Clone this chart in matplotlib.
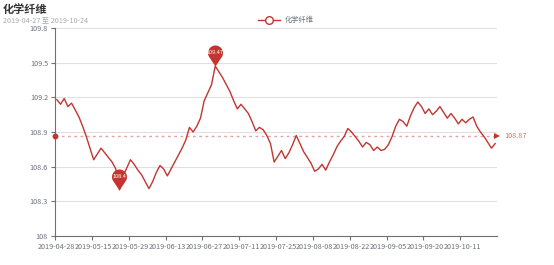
import numpy as np
import pandas as pd
import matplotlib
matplotlib.use("Agg")
import matplotlib.pyplot as plt
from matplotlib.path import Path
from matplotlib.lines import Line2D

plt.rcParams['font.family'] = ['Noto Sans CJK SC', 'DejaVu Sans']

title = "化学纤维"
subtitle = "2019-04-27 至 2019-10-24"
series_name = "化学纤维"

holidays = ["2019-05-01", "2019-05-02", "2019-05-03", "2019-06-07", "2019-09-13",
            "2019-10-01", "2019-10-02", "2019-10-03", "2019-10-04", "2019-10-07"]
dates = ["2019-04-28"] + [d.strftime("%Y-%m-%d") for d in
                          pd.bdate_range("2019-04-29", "2019-10-24")
                          if d.strftime("%Y-%m-%d") not in holidays]

values = [
    109.18, 109.14, 109.19, 109.12, 109.15, 109.09, 109.03, 108.95, 108.86, 108.76,
    108.66, 108.71, 108.76, 108.72, 108.68, 108.64, 108.58, 108.40, 108.52, 108.59,
    108.66, 108.62, 108.57, 108.53, 108.47, 108.41, 108.47, 108.55, 108.61, 108.58,
    108.52, 108.58, 108.64, 108.70, 108.76, 108.83, 108.94, 108.90, 108.95, 109.02,
    109.17, 109.24, 109.31, 109.47, 109.42, 109.37, 109.31, 109.25, 109.17, 109.10,
    109.14, 109.10, 109.06, 108.99, 108.91, 108.94, 108.92, 108.87, 108.80, 108.64,
    108.69, 108.74, 108.67, 108.72, 108.79, 108.87, 108.80, 108.73, 108.68, 108.63,
    108.56, 108.58, 108.62, 108.57, 108.64, 108.70, 108.77, 108.82, 108.86, 108.93,
    108.90, 108.86, 108.82, 108.77, 108.81, 108.79, 108.74, 108.77, 108.74, 108.75,
    108.79, 108.86, 108.95, 109.01, 108.99, 108.95, 109.04, 109.11, 109.16, 109.12,
    109.06, 109.10, 109.05, 109.08, 109.12, 109.07, 109.02, 109.06, 109.02, 108.97,
    109.01, 108.98, 109.01, 109.03, 108.95, 108.90, 108.86, 108.81, 108.76, 108.80,
]

y_ticks = [108, 108.3, 108.6, 108.9, 109.2, 109.5, 109.8]
y_tick_labels = ["108", "108.3", "108.6", "108.9", "109.2", "109.5", "109.8"]

RED = "#c23531"
GREY = "#6e7079"

W, H = 554, 265
fig = plt.figure(figsize=(W / 100, H / 100), dpi=100)
ax = fig.add_axes([55 / W, 1 - 236 / H, (497 - 55) / W, (236 - 28) / H])

n = len(values)
x = np.arange(n)
ax.plot(x, values, color=RED, lw=1.0, zorder=3, solid_joinstyle='round')

ax.set_xlim(-0.5, n - 0.5)
ax.set_ylim(y_ticks[0], y_ticks[-1])
ax.set_yticks(y_ticks)
ax.set_yticklabels(y_tick_labels)
ax.grid(axis='y', color='#e0e0e0', lw=0.8)
ax.set_axisbelow(True)

tick_idx = list(range(0, n, 10))
ax.set_xticks([i - 0.5 for i in tick_idx])
ax.set_xticklabels([])
for i in tick_idx:
    ax.text(i, -0.035, dates[i], transform=ax.get_xaxis_transform(), ha='center', va='top',
            fontsize=5.2, color=GREY)

for s in ['top', 'right']:
    ax.spines[s].set_visible(False)
ax.spines['left'].set_color(GREY)
ax.spines['bottom'].set_color(GREY)
ax.spines['left'].set_linewidth(0.8)
ax.spines['bottom'].set_linewidth(0.8)
ax.tick_params(axis='y', length=3, width=0.8, color=GREY, labelsize=5.2, labelcolor=GREY, pad=2)
ax.tick_params(axis='x', length=3, width=0.8, color=GREY)

# average mark line
avg = float(np.mean(values))
ax.plot([-0.5, n - 0.5], [avg, avg], color=RED, alpha=0.45, lw=1.0, ls=(0, (2, 2.5)), zorder=2,
        clip_on=False)
ax.plot([-0.5], [avg], marker='o', color=RED, markersize=3.2, zorder=4, clip_on=False)
ax.plot([n - 0.5], [avg], marker='>', color=RED, markersize=4.5, zorder=4, clip_on=False,
        markeredgewidth=0)
ax.annotate(f"{avg:.2f}", xy=(n - 0.5, avg), xytext=(5, 0), textcoords='offset points',
            ha='left', va='center', fontsize=5.2, color="#d9706c", annotation_clip=False)

# pin marker
r, d = 7.5, 13.5
a = np.arcsin(r / d)
theta = np.linspace(-a, np.pi + a, 60)
arc = np.column_stack([r * np.cos(theta), d + r * np.sin(theta)])
verts = np.vstack([[0, 0], arc, [0, 0]])
codes = [Path.MOVETO] + [Path.LINETO] * (len(verts) - 2) + [Path.CLOSEPOLY]
pin = Path(verts, codes)
pin_size_pt = 2 * (d + r) * 0.72


def mark(i, label):
    ax.plot([i], [values[i]], marker=pin, markersize=pin_size_pt, color=RED,
            markeredgewidth=0, zorder=5, clip_on=False)
    ax.annotate(label, xy=(i, values[i]), xytext=(0, d * 0.72), textcoords='offset points',
                ha='center', va='center', fontsize=4.0, color='white', zorder=6)


imax = int(np.argmax(values))
imin = int(np.argmin(values))
mark(imax, f"{values[imax]:g}")
mark(imin, f"{values[imin]:g}")

# titles
fig.text(3 / W, 1 - 9 / H, title, fontsize=8, fontweight='bold', color='#333333', ha='left', va='center')
fig.text(3 / W, 1 - 20 / H, subtitle, fontsize=5.2, color='#aaaaaa', ha='left', va='center')

# legend
ly = 1 - 20 / H
fig.add_artist(Line2D([258 / W, 280 / W], [ly, ly], color=RED, lw=1.0))
fig.add_artist(Line2D([269 / W], [ly], marker='o', markersize=5.5, markerfacecolor='white',
                      markeredgecolor=RED, markeredgewidth=1.0, color=RED))
fig.text(285 / W, ly, series_name, fontsize=5.2, color=GREY, ha='left', va='center')

fig.savefig("out.png", dpi=100)
